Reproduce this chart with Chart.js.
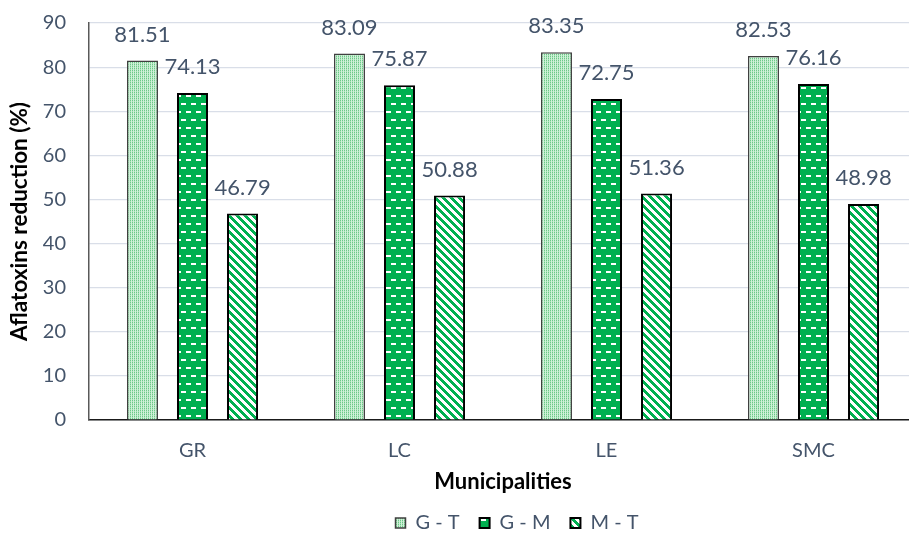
<!DOCTYPE html>
<html>
<head>
<meta charset="utf-8">
<script src="https://cdn.jsdelivr.net/npm/chart.js@4.4.1/dist/chart.umd.min.js"></script>
<style>
  html, body { margin: 0; padding: 0; background: #ffffff; overflow: hidden; }
  #wrap { width: 909px; height: 536px; overflow: hidden; position: relative; }
  canvas { display: block; margin-top: -12px; }
</style>
</head>
<body>
<div id="wrap"><canvas id="c" width="1034" height="548"></canvas></div>
<script>
const categories = ['GR', 'LC', 'LE', 'SMC'];
const seriesNames = ['G - T', 'G - M', 'M - T'];
const valuesGT = [81.51, 83.09, 83.35, 82.53];
const valuesGM = [74.13, 75.87, 72.75, 76.16];
const valuesMT = [46.79, 50.88, 51.36, 48.98];
const yTicks = [0, 10, 20, 30, 40, 50, 60, 70, 80, 90];

const FONT = 'Lato, "Open Sans", "Liberation Sans", sans-serif';
const TEXT = '#44546A';

function makePattern(w, h, painter) {
  const cv = document.createElement('canvas');
  cv.width = w; cv.height = h;
  const g = cv.getContext('2d');
  painter(g, w, h);
  return g.createPattern(cv, 'repeat');
}
function px(g, x, y, c) { g.fillStyle = c; g.fillRect(x, y, 1, 1); }

// G - T : pale green with fine dots
const patGT = makePattern(2, 2, (g) => {
  g.fillStyle = '#d0f1d9'; g.fillRect(0, 0, 2, 2);
  px(g, 0, 0, '#6cc987');
  px(g, 0, 1, '#a9e2b8');
});
// G - M : green with white dashes (brick)
const patGM = makePattern(10, 16, (g) => {
  g.fillStyle = '#00b050'; g.fillRect(0, 0, 10, 16);
  g.fillStyle = '#ffffff';
  g.fillRect(1, 3, 5, 2);
  g.fillRect(6, 11, 4, 2); g.fillRect(0, 11, 1, 2);
});
// M - T : wide downward diagonal stripes
const patMT = makePattern(8, 8, (g) => {
  for (let y = 0; y < 8; y++) for (let x = 0; x < 8; x++) {
    const d = ((x - y) % 8 + 8) % 8;
    px(g, x, y, d < 4 ? '#00b050' : '#ffffff');
  }
});

const labelPlugin = {
  id: 'valueLabels',
  afterDatasetsDraw(chart) {
    const ctx = chart.ctx;
    ctx.save();
    ctx.font = '22px ' + FONT;
    ctx.fillStyle = TEXT;
    ctx.textAlign = 'center';
    ctx.textBaseline = 'middle';
    chart.data.datasets.forEach((ds, i) => {
      const meta = chart.getDatasetMeta(i);
      meta.data.forEach((el, j) => {
        ctx.fillText(ds.data[j].toFixed(2), el.x, el.y - 26);
      });
    });
    ctx.restore();
  }
};

new Chart(document.getElementById('c'), {
  type: 'bar',
  data: {
    labels: categories,
    datasets: [
      { label: seriesNames[0], data: valuesGT, backgroundColor: patGT, borderColor: '#404040', borderWidth: 1.5 },
      { label: seriesNames[1], data: valuesGM, backgroundColor: patGM, borderColor: '#000000', borderWidth: 2 },
      { label: seriesNames[2], data: valuesMT, backgroundColor: patMT, borderColor: '#000000', borderWidth: 2 }
    ]
  },
  options: {
    responsive: false,
    animation: false,
    devicePixelRatio: 1,
    layout: { padding: { top: -12, left: 0, right: 0, bottom: -7 } },
    datasets: { bar: { categoryPercentage: 0.725, barPercentage: 0.62 } },
    plugins: {
      legend: {
        position: 'bottom',
        labels: {
          boxWidth: 10, boxHeight: 10, padding: 20,
          color: TEXT, font: { family: FONT, size: 20 }
        }
      },
      tooltip: { enabled: false }
    },
    scales: {
      x: {
        grid: { display: false, drawTicks: false },
        border: { display: true, color: '#1a1a1a', width: 1.5 },
        ticks: { color: TEXT, font: { family: FONT, size: 20 }, padding: 19 },
        title: { display: true, text: 'Municipalities', color: '#000', font: { family: FONT, size: 22, weight: 'bold' }, padding: { top: 4, bottom: -2 } },
        afterFit: (s) => { s.height = 73; }
      },
      y: {
        min: 0, max: 90,
        afterBuildTicks: (s) => { s.ticks = yTicks.map(v => ({ value: v })); },
        grid: { color: '#d9dee8', lineWidth: 1.2, drawTicks: false },
        border: { display: true, color: '#595959', width: 1.5 },
        ticks: { color: TEXT, font: { family: FONT, size: 20 }, padding: 23 },
        title: { display: true, text: 'Aflatoxins reduction (%)', color: '#000', font: { family: FONT, size: 22.5, weight: 'bold' }, padding: { top: 6, bottom: 0 } },
        afterFit: (s) => { s.width = 89; }
      },
      y2: {
        position: 'right',
        display: true,
        grid: { display: false, drawTicks: false },
        border: { display: false },
        ticks: { display: false },
        afterFit: (s) => { s.width = 117; }
      }
    }
  },
  plugins: [labelPlugin]
});
</script>
</body>
</html>
